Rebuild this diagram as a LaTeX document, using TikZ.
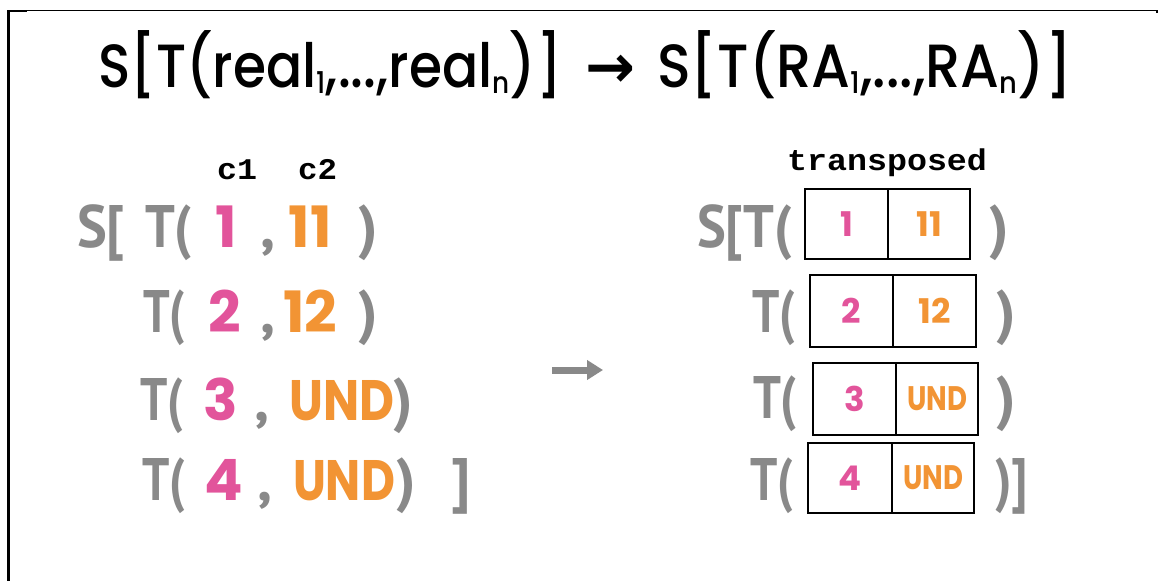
\documentclass[tikz,border=0pt]{standalone}
\usepackage{fontspec}
\usepackage{graphicx}
\usetikzlibrary{arrows.meta}
\newfontfamily\titlefont{Poppins Medium}
\newfontfamily\grayfont{PT Sans}
\newfontfamily\numfont{Poppins}
\newfontfamily\labelfont{Liberation Mono}
\newfontfamily\arrowfont{DejaVu Sans}
\definecolor{txtgray}{RGB}{137,137,137}
\definecolor{numpink}{RGB}{226,84,155}
\definecolor{numorange}{RGB}{242,148,52}
% squeeze a piece of text to a given width, keeping its height
\newcommand\fw[2]{\resizebox{#1pt}{\height}{#2}}
\newcommand\subidx[1]{\raisebox{-6pt}{\fontsize{30pt}{30pt}\selectfont #1}}
\tikzset{
  txt/.style={inner sep=0pt, outer sep=0pt, anchor=base west},
  ctxt/.style={inner sep=0pt, outer sep=0pt, anchor=base},
  titletxt/.style={txt, font=\titlefont\fontsize{61pt}{61pt}\selectfont},
  graytxt/.style={txt, text=txtgray, font=\grayfont\bfseries\fontsize{60pt}{60pt}\selectfont},
  grayglyph/.style={ctxt, text=txtgray, font=\grayfont\bfseries\fontsize{60pt}{60pt}\selectfont},
  pinknum/.style={ctxt, text=numpink, font=\numfont\bfseries\fontsize{57pt}{57pt}\selectfont},
  orangenum/.style={ctxt, text=numorange, font=\numfont\bfseries\fontsize{57pt}{57pt}\selectfont},
  collabel/.style={txt, font=\labelfont\bfseries\fontsize{30pt}{30pt}\selectfont},
  cell/.style={draw=black, line width=2.5pt, inner sep=0pt, outer sep=0pt,
    font=\numfont\bfseries\fontsize{34pt}{34pt}\selectfont},
  pinkcell/.style={cell, text=numpink},
  orangecell/.style={cell, text=numorange},
}
\begin{document}
\begin{tikzpicture}[x=1pt,y=-1pt]
\useasboundingbox (0,0) rectangle (1158,581);
\fill[white] (0,0) rectangle (1158,581);

% frame
\draw[line width=1.2pt] (7,10.6) -- (1157,10.6) -- (1157,13);
\draw[line width=2.6pt] (8.3,10) -- (8.3,581);
\draw[line width=2.4pt] (7,11.2) -- (27,11.2);

% heading
\node[titletxt] (head1) at (98,87) {\fw{464}{S[T(real\subidx{1},...,real\subidx{n})]}};
\node[inner sep=0pt, anchor=base, font=\arrowfont\bfseries\fontsize{60pt}{60pt}\selectfont] (headarrow) at (610,87) {\fw{50}{→}};
\node[titletxt] (head2) at (657,87) {\fw{415}{S[T(RA\subidx{1},...,RA\subidx{n})]}};

% column labels
\node[collabel] (c1) at (217,179) {\fw{40}{c1}};
\node[collabel] (c2) at (298,179) {\fw{39}{c2}};
\node[collabel] (transp) at (787,170) {\fw{200}{transposed}};

% left: the structure of tuples
\node[graytxt] (lS) at (77,247) {\fw{48}{S[}};
\node[graytxt] (lT1) at (145,247) {\fw{47}{T(}};
\node[pinknum] (la1) at (226,247) {1};
\node[grayglyph] (lc1) at (268,247) {,};
\node[orangenum] (lb1) at (310,247) {11};
\node[grayglyph] (lp1) at (368,247) {)};

\node[graytxt] (lT2) at (143,332) {\fw{42}{T(}};
\node[pinknum] (la2) at (225,332) {2};
\node[grayglyph] (lc2) at (268,332) {,};
\node[orangenum] (lb2) at (310,332) {12};
\node[grayglyph] (lp2) at (368,332) {)};

\node[graytxt] (lT3) at (140,420) {\fw{43}{T(}};
\node[pinknum] (la3) at (221,420) {3};
\node[grayglyph] (lc3) at (262,420) {,};
\node[orangenum] (lb3) at (342,420) {\fw{105}{UND}};
\node[grayglyph] (lp3) at (403,420) {)};

\node[graytxt] (lT4) at (142,500) {\fw{43}{T(}};
\node[pinknum] (la4) at (224,500) {4};
\node[grayglyph] (lc4) at (265,500) {,};
\node[orangenum] (lb4) at (344,500) {\fw{102}{UND}};
\node[grayglyph] (lp4) at (406,500) {)};
\node[grayglyph] (lclose) at (461,500) {]};

% arrow between the two forms
\coordinate (arL) at (552,370);
\coordinate (arR) at (603,370);
\draw[line width=7pt, txtgray, -{Triangle[length=16pt,width=19pt]}] (arL) -- (arR);

% right: transposed tuples
\node[graytxt] (rS) at (697,247) {\fw{95}{S[T(}};
\node[pinkcell, minimum width=83pt, minimum height=70pt] (r1a) at (846.5,224) {1};
\node[orangecell, minimum width=82pt, minimum height=70pt] (r1b) at (929,224) {11};
\node[grayglyph] (rp1) at (999,247) {)};

\node[graytxt] (rT2) at (752,332) {\fw{43}{T(}};
\node[pinkcell, minimum width=83pt, minimum height=72pt] (r2a) at (851.5,311) {2};
\node[orangecell, minimum width=83pt, minimum height=72pt] (r2b) at (934.5,311) {12};
\node[grayglyph] (rp2) at (1006,332) {)};

\node[graytxt] (rT3) at (753,418) {\fw{44}{T(}};
\node[pinkcell, minimum width=83pt, minimum height=72pt] (r3a) at (854.5,399) {3};
\node[orangecell, minimum width=82pt, minimum height=72pt] (r3b) at (937,399) {\fw{60}{UND}};
\node[grayglyph] (rp3) at (1006,418) {)};

\node[graytxt] (rT4) at (750,500) {\fw{43}{T(}};
\node[pinkcell, minimum width=84pt, minimum height=70pt] (r4a) at (850,478) {4};
\node[orangecell, minimum width=82pt, minimum height=70pt] (r4b) at (933,478) {\fw{60}{UND}};
\node[graytxt] (rp4) at (995,500) {\fw{33}{)]}};
\end{tikzpicture}
\end{document}
